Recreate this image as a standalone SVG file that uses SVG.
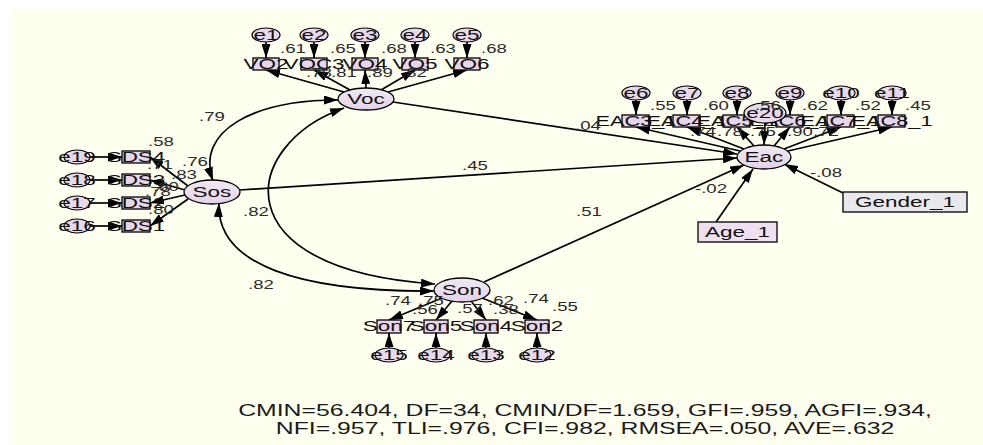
<svg xmlns="http://www.w3.org/2000/svg" width="983" height="445" viewBox="0 0 983 445">
<defs>
<marker id="ah" viewBox="0 0 14 9" refX="14" refY="4.5" markerWidth="14" markerHeight="9" markerUnits="userSpaceOnUse" orient="auto-start-reverse"><path d="M0,0 L14,4.5 L0,9 z" fill="#000"/></marker>
<linearGradient id="lg" x1="0" y1="0" x2="0" y2="1"><stop offset="0" stop-color="#f1e9f3"/><stop offset="1" stop-color="#e4d2e8"/></linearGradient>
</defs>
<style>
text{font-family:"Liberation Sans",Arial,sans-serif;fill:#111}
.lb{font-size:15px;text-anchor:middle}
.nm{font-size:12px;fill:#2a2a2a}
.ft{font-size:16px;text-anchor:middle;fill:#1a1a1a}
.ln{stroke:#000;stroke-width:1.7;fill:none;marker-end:url(#ah)}
.cv{stroke:#000;stroke-width:1.7;fill:none;marker-end:url(#ah);marker-start:url(#ah)}
.lat{fill:url(#lg);stroke:#000;stroke-width:1.3}
.err{fill:#e8d8ec;stroke:#000;stroke-width:1.2}
.box{fill:#e7d5ea;stroke:#000;stroke-width:1.3}
</style>
<rect x="12" y="10" width="971" height="435" fill="#feffef"/>

<g id="connectors">
<line class="ln" x1="266" y1="42" x2="266" y2="58"/>
<line class="ln" x1="314" y1="42" x2="314" y2="58"/>
<line class="ln" x1="365" y1="42" x2="365" y2="58"/>
<line class="ln" x1="415" y1="42" x2="415" y2="58"/>
<line class="ln" x1="467" y1="42" x2="467" y2="58"/>
<line class="ln" x1="344" y1="92" x2="266" y2="70"/>
<line class="ln" x1="350" y1="90" x2="314" y2="70"/>
<line class="ln" x1="366" y1="88" x2="365" y2="70"/>
<line class="ln" x1="381" y1="90" x2="415" y2="70"/>
<line class="ln" x1="388" y1="92" x2="467" y2="70"/>
<line class="ln" x1="636" y1="100" x2="636" y2="115"/>
<line class="ln" x1="687" y1="100" x2="687" y2="115"/>
<line class="ln" x1="737" y1="100" x2="737" y2="115"/>
<line class="ln" x1="790" y1="100" x2="790" y2="115"/>
<line class="ln" x1="841" y1="100" x2="841" y2="115"/>
<line class="ln" x1="892" y1="100" x2="892" y2="115"/>
<line class="ln" x1="740" y1="151" x2="636" y2="127"/>
<line class="ln" x1="744" y1="149" x2="687" y2="127"/>
<line class="ln" x1="754" y1="146" x2="737" y2="127"/>
<line class="ln" x1="774" y1="146" x2="790" y2="127"/>
<line class="ln" x1="784" y1="149" x2="841" y2="127"/>
<line class="ln" x1="788" y1="151" x2="892" y2="127"/>
<line class="ln" x1="765" y1="123" x2="764" y2="145"/>
<line class="ln" x1="90" y1="157" x2="122" y2="157"/>
<line class="ln" x1="90" y1="180" x2="122" y2="180"/>
<line class="ln" x1="90" y1="203" x2="122" y2="203"/>
<line class="ln" x1="90" y1="226" x2="122" y2="226"/>
<line class="ln" x1="188" y1="186" x2="150" y2="157"/>
<line class="ln" x1="185" y1="190" x2="150" y2="180"/>
<line class="ln" x1="185" y1="195" x2="150" y2="203"/>
<line class="ln" x1="188" y1="199" x2="150" y2="226"/>
<line class="ln" x1="389" y1="348" x2="389" y2="333"/>
<line class="ln" x1="436" y1="348" x2="436" y2="333"/>
<line class="ln" x1="486" y1="348" x2="486" y2="333"/>
<line class="ln" x1="537" y1="348" x2="537" y2="333"/>
<line class="ln" x1="442" y1="298" x2="389" y2="320"/>
<line class="ln" x1="452" y1="301" x2="436" y2="320"/>
<line class="ln" x1="471" y1="301" x2="486" y2="320"/>
<line class="ln" x1="482" y1="298" x2="537" y2="320"/>
<line class="ln" x1="393" y1="102" x2="737" y2="154"/>
<line class="ln" x1="240" y1="190" x2="737" y2="158"/>
<line class="ln" x1="484" y1="282" x2="744" y2="165"/>
<line class="ln" x1="716" y1="222" x2="753" y2="169"/>
<line class="ln" x1="843" y1="193" x2="784" y2="164"/>
<path class="cv" d="M213,181 C195,130 255,100 338,100"/>
<path class="cv" d="M344,108 C240,145 220,270 435,284"/>
<path class="cv" d="M219,203 C216,265 300,292 434,291"/>
</g>

<g id="Voc">
<ellipse class="lat" cx="366" cy="99" rx="28" ry="11"/>
<text class="lb" transform="translate(366 104) scale(1.5 1)">Voc</text>
</g>
<g id="Sos">
<ellipse class="lat" cx="212" cy="192" rx="28" ry="12"/>
<text class="lb" transform="translate(212 197) scale(1.5 1)">Sos</text>
</g>
<g id="Son">
<ellipse class="lat" cx="462" cy="290" rx="28" ry="12"/>
<text class="lb" transform="translate(462 295) scale(1.5 1)">Son</text>
</g>
<g id="Eac">
<ellipse class="lat" cx="764" cy="157" rx="27" ry="12"/>
<text class="lb" transform="translate(764 162) scale(1.5 1)">Eac</text>
</g>

<g id="VO2"><rect class="box" x="253" y="58" width="26" height="12"/><text class="lb" transform="translate(266 69) scale(1.5 1)">VO2</text></g>
<g id="VOC3"><rect class="box" x="301" y="58" width="26" height="12"/><text class="lb" transform="translate(314 69) scale(1.5 1)">VOC3</text></g>
<g id="VO4"><rect class="box" x="352" y="58" width="26" height="12"/><text class="lb" transform="translate(365 69) scale(1.5 1)">VO4</text></g>
<g id="VO5"><rect class="box" x="402" y="58" width="26" height="12"/><text class="lb" transform="translate(415 69) scale(1.5 1)">VO5</text></g>
<g id="VO6"><rect class="box" x="454" y="58" width="26" height="12"/><text class="lb" transform="translate(467 69) scale(1.5 1)">VO6</text></g>
<g id="e1"><ellipse class="err" cx="266" cy="35" rx="14" ry="7"/><text class="lb" transform="translate(266 40) scale(1.5 1)">e1</text></g>
<g id="e2"><ellipse class="err" cx="314" cy="35" rx="14" ry="7"/><text class="lb" transform="translate(314 40) scale(1.5 1)">e2</text></g>
<g id="e3"><ellipse class="err" cx="365" cy="35" rx="14" ry="7"/><text class="lb" transform="translate(365 40) scale(1.5 1)">e3</text></g>
<g id="e4"><ellipse class="err" cx="415" cy="35" rx="14" ry="7"/><text class="lb" transform="translate(415 40) scale(1.5 1)">e4</text></g>
<g id="e5"><ellipse class="err" cx="467" cy="35" rx="14" ry="7"/><text class="lb" transform="translate(467 40) scale(1.5 1)">e5</text></g>

<g id="EAC3_1"><rect class="box" x="622" y="115" width="27" height="12"/><text class="lb" transform="translate(636 126) scale(1.45 1)">EAC3_1</text></g>
<g id="EAC4_1"><rect class="box" x="673" y="115" width="27" height="12"/><text class="lb" transform="translate(687 126) scale(1.45 1)">EAC4_1</text></g>
<g id="EAC5_1"><rect class="box" x="723" y="115" width="27" height="12"/><text class="lb" transform="translate(737 126) scale(1.45 1)">EAC5_1</text></g>
<g id="EAC6_1"><rect class="box" x="776" y="115" width="27" height="12"/><text class="lb" transform="translate(790 126) scale(1.45 1)">EAC6_1</text></g>
<g id="EAC7_1"><rect class="box" x="827" y="115" width="27" height="12"/><text class="lb" transform="translate(841 126) scale(1.45 1)">EAC7_1</text></g>
<g id="EAC8_1"><rect class="box" x="878" y="115" width="27" height="12"/><text class="lb" transform="translate(892 126) scale(1.45 1)">EAC8_1</text></g>
<g id="e6"><ellipse class="err" cx="636" cy="93" rx="14" ry="7"/><text class="lb" transform="translate(636 98) scale(1.5 1)">e6</text></g>
<g id="e7"><ellipse class="err" cx="687" cy="93" rx="14" ry="7"/><text class="lb" transform="translate(687 98) scale(1.5 1)">e7</text></g>
<g id="e8"><ellipse class="err" cx="737" cy="93" rx="14" ry="7"/><text class="lb" transform="translate(737 98) scale(1.5 1)">e8</text></g>
<g id="e9"><ellipse class="err" cx="790" cy="93" rx="14" ry="7"/><text class="lb" transform="translate(790 98) scale(1.5 1)">e9</text></g>
<g id="e10"><ellipse class="err" cx="841" cy="93" rx="14" ry="7"/><text class="lb" transform="translate(841 98) scale(1.5 1)">e10</text></g>
<g id="e11"><ellipse class="err" cx="892" cy="93" rx="14" ry="7"/><text class="lb" transform="translate(892 98) scale(1.5 1)">e11</text></g>
<g id="e20"><ellipse class="err" cx="765" cy="113" rx="21" ry="10"/><text class="lb" transform="translate(765 118) scale(1.5 1)">e20</text></g>

<g id="SDS4"><rect class="box" x="122" y="151" width="28" height="12"/><text class="lb" transform="translate(136 162) scale(1.5 1)">SDS4</text></g>
<g id="SDS3"><rect class="box" x="122" y="174" width="28" height="12"/><text class="lb" transform="translate(136 185) scale(1.5 1)">SDS3</text></g>
<g id="SDS2"><rect class="box" x="122" y="197" width="28" height="12"/><text class="lb" transform="translate(136 208) scale(1.5 1)">SDS2</text></g>
<g id="SDS1"><rect class="box" x="122" y="220" width="28" height="12"/><text class="lb" transform="translate(136 231) scale(1.5 1)">SDS1</text></g>
<g id="e19"><ellipse class="err" cx="77" cy="157" rx="13" ry="7"/><text class="lb" transform="translate(77 162) scale(1.5 1)">e19</text></g>
<g id="e18"><ellipse class="err" cx="77" cy="180" rx="13" ry="7"/><text class="lb" transform="translate(77 185) scale(1.5 1)">e18</text></g>
<g id="e17"><ellipse class="err" cx="77" cy="203" rx="13" ry="7"/><text class="lb" transform="translate(77 208) scale(1.5 1)">e17</text></g>
<g id="e16"><ellipse class="err" cx="77" cy="226" rx="13" ry="7"/><text class="lb" transform="translate(77 231) scale(1.5 1)">e16</text></g>

<g id="Son7"><rect class="box" x="377" y="320" width="24" height="13"/><text class="lb" transform="translate(389 331) scale(1.5 1)">Son7</text></g>
<g id="Son5"><rect class="box" x="424" y="320" width="24" height="13"/><text class="lb" transform="translate(436 331) scale(1.5 1)">Son5</text></g>
<g id="Son4"><rect class="box" x="474" y="320" width="24" height="13"/><text class="lb" transform="translate(486 331) scale(1.5 1)">Son4</text></g>
<g id="Son2"><rect class="box" x="525" y="320" width="24" height="13"/><text class="lb" transform="translate(537 331) scale(1.5 1)">Son2</text></g>
<g id="e15"><ellipse class="err" cx="389" cy="355" rx="14" ry="7"/><text class="lb" transform="translate(389 360) scale(1.5 1)">e15</text></g>
<g id="e14"><ellipse class="err" cx="436" cy="355" rx="14" ry="7"/><text class="lb" transform="translate(436 360) scale(1.5 1)">e14</text></g>
<g id="e13"><ellipse class="err" cx="486" cy="355" rx="14" ry="7"/><text class="lb" transform="translate(486 360) scale(1.5 1)">e13</text></g>
<g id="e12"><ellipse class="err" cx="537" cy="355" rx="14" ry="7"/><text class="lb" transform="translate(537 360) scale(1.5 1)">e12</text></g>

<g id="Age_1"><rect x="698" y="222" width="79" height="20" fill="#efe0ef" stroke="#000" stroke-width="1.3"/><text class="lb" transform="translate(737.5 237) scale(1.5 1)">Age_1</text></g>
<g id="Gender_1"><rect x="843" y="192" width="124" height="20" fill="#e8e8ee" stroke="#000" stroke-width="1.3"/><text class="lb" transform="translate(905 207) scale(1.5 1)">Gender_1</text></g>

<g id="labels">
<text class="nm" transform="translate(280 53) scale(1.55 1)">.61</text>
<text class="nm" transform="translate(330 53) scale(1.55 1)">.65</text>
<text class="nm" transform="translate(381 53) scale(1.55 1)">.68</text>
<text class="nm" transform="translate(430 53) scale(1.55 1)">.63</text>
<text class="nm" transform="translate(481 53) scale(1.55 1)">.68</text>
<text class="nm" transform="translate(306 77) scale(1.55 1)">.78</text>
<text class="nm" transform="translate(331 77) scale(1.55 1)">.81</text>
<text class="nm" transform="translate(367 77) scale(1.55 1)">.89</text>
<text class="nm" transform="translate(401 77) scale(1.55 1)">.82</text>

<text class="nm" transform="translate(650 110) scale(1.55 1)">.55</text>
<text class="nm" transform="translate(703 110) scale(1.55 1)">.60</text>
<text class="nm" transform="translate(755 110) scale(1.55 1)">.56</text>
<text class="nm" transform="translate(802 110) scale(1.55 1)">.62</text>
<text class="nm" transform="translate(855 110) scale(1.55 1)">.52</text>
<text class="nm" transform="translate(905 110) scale(1.55 1)">.45</text>
<text class="nm" transform="translate(690 136) scale(1.55 1)">.74</text>
<text class="nm" transform="translate(717 136) scale(1.55 1)">.78</text>
<text class="nm" transform="translate(750 136) scale(1.55 1)">.75</text>
<text class="nm" transform="translate(787 136) scale(1.55 1)">.90</text>
<text class="nm" transform="translate(813 136) scale(1.55 1)">.72</text>

<text class="nm" transform="translate(148 146) scale(1.55 1)">.58</text>
<text class="nm" transform="translate(182 166) scale(1.55 1)">.76</text>
<text class="nm" transform="translate(147 169) scale(1.55 1)">.71</text>
<text class="nm" transform="translate(171 179) scale(1.55 1)">.83</text>
<text class="nm" transform="translate(153 191) scale(1.55 1)">.60</text>
<text class="nm" transform="translate(145 196) scale(1.55 1)">.78</text>
<text class="nm" transform="translate(148 214) scale(1.55 1)">.80</text>

<text class="nm" transform="translate(385 305) scale(1.55 1)">.74</text>
<text class="nm" transform="translate(418 305) scale(1.55 1)">.75</text>
<text class="nm" transform="translate(412 314) scale(1.55 1)">.56</text>
<text class="nm" transform="translate(457 313) scale(1.55 1)">.57</text>
<text class="nm" transform="translate(488 305) scale(1.55 1)">.62</text>
<text class="nm" transform="translate(493 314) scale(1.55 1)">.38</text>
<text class="nm" transform="translate(523 303) scale(1.55 1)">.74</text>
<text class="nm" transform="translate(552 311) scale(1.55 1)">.55</text>

<text class="nm" transform="translate(199 121) scale(1.55 1)">.79</text>
<text class="nm" transform="translate(243 216) scale(1.55 1)">.82</text>
<text class="nm" transform="translate(248 289) scale(1.55 1)">.82</text>
<text class="nm" transform="translate(575 130) scale(1.55 1)">.04</text>
<text class="nm" transform="translate(462 170) scale(1.55 1)">.45</text>
<text class="nm" transform="translate(576 216) scale(1.55 1)">.51</text>
<text class="nm" transform="translate(695 193) scale(1.55 1)">-.02</text>
<text class="nm" transform="translate(810 177) scale(1.55 1)">-.08</text>

<text class="ft" transform="translate(585 416) scale(1.55 1)">CMIN=56.404, DF=34, CMIN/DF=1.659, GFI=.959, AGFI=.934,</text>
<text class="ft" transform="translate(585 434) scale(1.55 1)">NFI=.957, TLI=.976, CFI=.982, RMSEA=.050, AVE=.632</text>
</g>
</svg>
